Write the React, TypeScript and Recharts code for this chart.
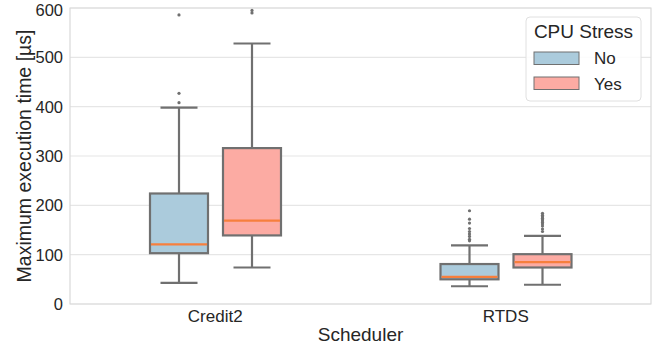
import { ComposedChart, Bar, XAxis, YAxis, CartesianGrid, ReferenceArea } from 'recharts';

const schedulers = ['Credit2', 'RTDS'];
const yTicks = [0, 100, 200, 300, 400, 500, 600];

// CPU Stress: No
const noMin = [43, 36];
const noQ1 = [103, 50];
const noMedian = [121, 55];
const noQ3 = [224, 81];
const noMax = [398, 119];
const noOutliers = [
  [408, 427, 586],
  [128, 131, 137, 142, 147, 153, 164, 172, 189],
];

// CPU Stress: Yes
const yesMin = [74, 39];
const yesQ1 = [139, 74];
const yesMedian = [169, 85];
const yesQ3 = [316, 101];
const yesMax = [528, 138];
const yesOutliers = [
  [590, 595],
  [147, 152, 158, 162, 165, 168, 171, 174, 177, 180, 184],
];

const data = schedulers.map((s, i) => ({
  scheduler: s,
  noMin: noMin[i], noQ1: noQ1[i], noMedian: noMedian[i], noQ3: noQ3[i], noMax: noMax[i], noOutliers: noOutliers[i],
  yesMin: yesMin[i], yesQ1: yesQ1[i], yesMedian: yesMedian[i], yesQ3: yesQ3[i], yesMax: yesMax[i], yesOutliers: yesOutliers[i],
}));

const FONT = '"Liberation Sans", Arial, sans-serif';
const TEXT = '#262626';
const EDGE = '#707070';
const MEDIAN = '#f77f3d';
const BLUE = '#abcbdc';
const PINK = '#fcaba3';

const BoxShape = (props: any) => {
  const { x, y, width, height, payload, series, color } = props;
  const q3 = payload[series + 'Q3'];
  const unit = height / q3; // px per value, taken from the bar's own scale
  const base = y + height;
  const toY = (v: number) => base - v * unit;
  const cx = x + width / 2;
  const cap = 37;
  const yTop = toY(q3);
  const yQ1 = toY(payload[series + 'Q1']);
  const yMed = toY(payload[series + 'Median']);
  const yMax = toY(payload[series + 'Max']);
  const yMin = toY(payload[series + 'Min']);
  return (
    <g>
      <line x1={cx} x2={cx} y1={yMax} y2={yTop} stroke={EDGE} strokeWidth={2.2} />
      <line x1={cx} x2={cx} y1={yQ1} y2={yMin} stroke={EDGE} strokeWidth={2.2} />
      <line x1={cx - cap / 2} x2={cx + cap / 2} y1={yMax} y2={yMax} stroke={EDGE} strokeWidth={2.2} />
      <line x1={cx - cap / 2} x2={cx + cap / 2} y1={yMin} y2={yMin} stroke={EDGE} strokeWidth={2.2} />
      <rect x={x} y={yTop} width={width} height={yQ1 - yTop} fill={color} stroke={EDGE} strokeWidth={2.2} />
      <line x1={x + 1} x2={x + width - 1} y1={yMed} y2={yMed} stroke={MEDIAN} strokeWidth={2.2} />
      {payload[series + 'Outliers'].map((v: number, i: number) => (
        <circle key={i} cx={cx} cy={toY(v)} r={1.6} fill={EDGE} />
      ))}
    </g>
  );
};

const YLabel = (props: any) => {
  const vb = props.viewBox;
  const cx = 24;
  const cy = vb.y + vb.height / 2;
  return (
    <text x={cx} y={cy} transform={`rotate(-90, ${cx}, ${cy})`} textAnchor="middle" dominantBaseline="central"
      fill={TEXT} fontSize={19.5} fontFamily={FONT}>
      Maximum execution time [µs]
    </text>
  );
};

const XLabel = (props: any) => {
  const vb = props.viewBox;
  return (
    <text x={vb.x + vb.width / 2} y={vb.y + 37} textAnchor="middle" fill={TEXT} fontSize={19} fontFamily={FONT}>
      Scheduler
    </text>
  );
};

export default function App() {
  return (
    <div style={{ position: 'absolute', left: 0, top: 0, width: 655, height: 346, background: '#fff' }}>
      <ComposedChart width={655} height={346} data={data} margin={{ top: 8, right: 4, bottom: 0, left: 0 }}
        barSize={58} barGap={15}>
        <CartesianGrid vertical={false} stroke="#e6e6e6" strokeWidth={1.2} />
        <ReferenceArea y1={0} y2={600} fill="none" stroke="#d9d9d9" strokeWidth={1.2} />
        <XAxis dataKey="scheduler" height={42} axisLine={false} tickLine={false} tickSize={0} tickMargin={6}
          tick={{ fill: TEXT, fontSize: 17, fontFamily: FONT }} label={<XLabel />} />
        <YAxis type="number" domain={[0, 600]} ticks={yTicks} width={70} axisLine={false} tickLine={false}
          tickSize={0} tickMargin={7} tick={{ fill: TEXT, fontSize: 16.5, fontFamily: FONT }} label={<YLabel />} />
        <Bar dataKey="noQ3" isAnimationActive={false} activeBar={false}
          shape={(p: any) => <BoxShape {...p} series="no" color={BLUE} />} />
        <Bar dataKey="yesQ3" isAnimationActive={false} activeBar={false}
          shape={(p: any) => <BoxShape {...p} series="yes" color={PINK} />} />
      </ComposedChart>
      <svg width={655} height={346} style={{ position: 'absolute', left: 0, top: 0, pointerEvents: 'none' }}>
        <rect x={526} y={17} width={115} height={84} rx={4} fill="rgba(255,255,255,0.85)" stroke="#e0e0e0" strokeWidth={1} />
        <text x={583.5} y={38} textAnchor="middle" fill={TEXT} fontSize={19} fontFamily={FONT}>CPU Stress</text>
        <rect x={534} y={52} width={45} height={12.5} fill={BLUE} stroke={EDGE} strokeWidth={1} />
        <text x={594} y={64} fill={TEXT} fontSize={17} fontFamily={FONT}>No</text>
        <rect x={534} y={77} width={45} height={12.5} fill={PINK} stroke={EDGE} strokeWidth={1} />
        <text x={594} y={90} fill={TEXT} fontSize={17} fontFamily={FONT}>Yes</text>
      </svg>
    </div>
  );
}
